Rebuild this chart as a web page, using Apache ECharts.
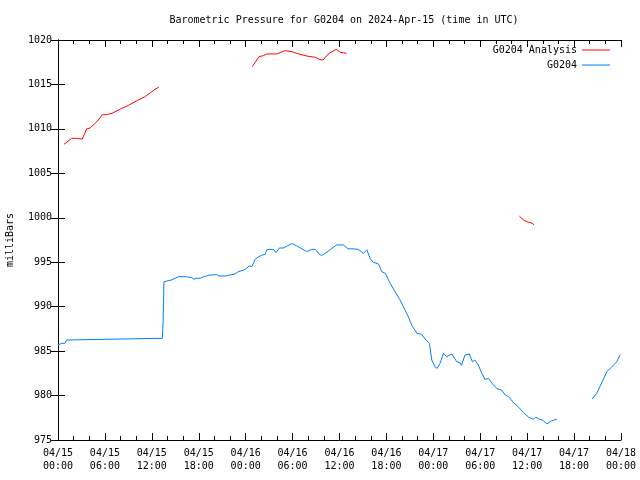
<!DOCTYPE html>
<html><head><meta charset="utf-8">
<script src="https://cdn.jsdelivr.net/npm/echarts@6/dist/echarts.min.js"></script>
<style>html,body{margin:0;padding:0;background:#fff}#c{width:640px;height:480px}</style>
</head><body><div id="c"></div>
<script>
// hours since 2024-04-15 00:00 UTC
const tickLabels = ['04/15\n00:00','04/15\n06:00','04/15\n12:00','04/15\n18:00','04/16\n00:00','04/16\n06:00','04/16\n12:00','04/16\n18:00','04/17\n00:00','04/17\n06:00','04/17\n12:00','04/17\n18:00','04/18\n00:00'];

const anaHours1 = [0.77,1.75,2.39,2.6,3.1,3.67,4.1,4.95,5.7,6.2,6.9,7.9,9.0,10.15,11.1,11.8,12.4,12.9];
const anaVals1  = [1008.27,1008.94,1008.94,1008.86,1008.86,1010.0,1010.1,1010.8,1011.6,1011.6,1011.75,1012.2,1012.65,1013.2,1013.6,1014.07,1014.45,1014.7];
const anaHours2 = [24.85,25.7,26.26,26.7,27.97,29.0,29.9,30.5,30.95,31.8,32.9,33.5,33.9,34.4,34.8,35.6,36.1,36.5,36.9];
const anaVals2  = [1017.0,1018.12,1018.24,1018.43,1018.43,1018.8,1018.7,1018.5,1018.4,1018.2,1018.05,1017.8,1017.75,1018.28,1018.57,1018.95,1018.6,1018.57,1018.5];
const anaHours3 = [59.0,59.3,59.7,60.15,60.6,60.9];
const anaVals3  = [1000.2,999.94,999.67,999.5,999.4,999.2];

const obsHours1 = [0.0,0.25,0.5,0.9,1.1,1.25,13.35,13.45,13.55,14.5,15.4,16.45,17.1,17.4,17.7,18.2,18.6,19.0,19.35,19.6,20.3,20.6,21.4,21.6,22.6,23.06,23.7,24.1,24.45,24.8,25.0,25.2,25.6,26.05,26.5,26.7,27.1,27.5,27.9,28.3,28.8,29.25,29.9,30.5,31.2,31.8,32.45,32.9,33.3,33.7,34.15,34.8,35.6,36.5,37.1,37.8,38.4,39.05,39.5,39.9,40.3,41.0,41.4,41.85,42.5,43.1,43.75,44.4,44.8,45.25,45.9,46.5,47.06,47.5,47.8,48.2,48.5,48.85,49.3,49.7,50.35,51.0,51.4,51.6,52.05,52.6,53.0,53.3,53.75,54.2,54.6,55.05,55.5,56.1,56.75,57.2,57.6,58.25,58.9,59.5,60.2,60.8,61.0,61.1,61.6,62.05,62.5,62.7,63.1,63.8];
const obsVals1  = [985.7,985.69,985.88,985.88,986.25,986.44,986.44,988.5,992.81,993.0,993.37,993.37,993.26,993.08,993.2,993.2,993.37,993.45,993.56,993.6,993.6,993.45,993.45,993.67,993.67,993.94,994.1,994.3,994.6,994.5,994.9,995.3,995.6,995.78,995.9,996.4,996.45,996.45,996.1,996.6,996.6,996.8,997.1,996.86,996.5,996.2,996.45,996.45,996.0,995.74,996.0,996.4,996.94,996.94,996.5,996.5,996.45,996.0,996.4,995.44,995.0,994.8,993.94,993.75,992.6,991.7,990.75,989.6,988.87,987.9,987.0,986.9,986.25,985.88,984.0,983.25,983.06,983.6,984.75,984.37,984.68,983.8,983.7,983.4,984.56,984.68,983.8,984.0,983.44,982.5,981.8,981.94,981.4,980.8,980.6,980.06,979.9,979.2,978.7,978.1,977.56,977.34,977.2,977.56,977.34,977.2,976.8,976.6,977.15,977.34];
const obsHours2 = [68.3,68.9,69.3,69.7,70.2,70.8,71.45,71.9];
const obsVals2  = [979.6,980.25,981.0,981.75,982.7,983.2,983.8,984.6];

function pairs(hs, vs){ return hs.map((h,i)=>[h, vs[i]]); }
function joinSegs(segs){
  const out = [];
  segs.forEach((s,k)=>{ if(k>0) out.push([(out[out.length-1][0]+s[0][0])/2, null]); out.push(...s); });
  return out;
}
const anaData = joinSegs([pairs(anaHours1,anaVals1), pairs(anaHours2,anaVals2), pairs(anaHours3,anaVals3)]);
const obsData = joinSegs([pairs(obsHours1,obsVals1), pairs(obsHours2,obsVals2)]);

const FONT = 'DejaVu Sans Mono';
const chart = echarts.init(document.getElementById('c'), null, {renderer:'canvas'});
const axisLine = {show:true, lineStyle:{color:'#000', width:1}};
chart.setOption({
  animation:false,
  backgroundColor:'#fff',
  textStyle:{fontFamily:FONT},
  title:{text:'Barometric Pressure for G0204 on 2024-Apr-15 (time in UTC)', left:339, top:10, textAlign:'center',
    textStyle:{fontFamily:FONT, fontSize:10, fontWeight:'normal', color:'#000'}},
  legend:{orient:'vertical', right:25, top:40, align:'right', itemGap:5, itemWidth:28, itemHeight:1,
    icon:'rect', textStyle:{fontFamily:FONT, fontSize:10, color:'#000'},
    data:['G0204 Analysis','G0204']},
  grid:{left:58, right:19, top:40, bottom:40, containLabel:false, outerBoundsMode:'none'},
  xAxis:[
    {type:'value', min:0, max:72, interval:6, position:'bottom',
     axisLine, splitLine:{show:false},
     axisTick:{show:true, inside:true, length:7, lineStyle:{color:'#000'}},
     minorTick:{show:true, splitNumber:3, length:4, lineStyle:{color:'#000'}},
     axisLabel:{fontFamily:FONT, fontSize:10, color:'#000', margin:7, lineHeight:13,
       formatter:(v)=>tickLabels[Math.round(v/6)]}},
    {type:'value', min:0, max:72, interval:6, position:'top',
     axisLine, splitLine:{show:false},
     axisTick:{show:true, inside:true, length:7, lineStyle:{color:'#000'}},
     minorTick:{show:true, splitNumber:3, length:4, lineStyle:{color:'#000'}},
     axisLabel:{show:false}}
  ],
  yAxis:[
    {type:'value', min:975, max:1020, interval:5, position:'left',
     name:'milliBars', nameLocation:'middle', nameGap:43, nameRotate:90,
     nameTextStyle:{fontFamily:FONT, fontSize:10, color:'#000'},
     axisLine, splitLine:{show:false},
     axisTick:{show:true, inside:true, length:7, lineStyle:{color:'#000'}},
     axisLabel:{fontFamily:FONT, fontSize:10, color:'#000', margin:6, formatter:(v)=>String(v)}},
    {type:'value', min:975, max:1020, interval:5, position:'right',
     axisLine, splitLine:{show:false},
     axisTick:{show:true, inside:true, length:7, lineStyle:{color:'#000'}},
     axisLabel:{show:false}}
  ],
  series:[
    {name:'G0204 Analysis', type:'line', data:anaData, showSymbol:false, symbol:'none', connectNulls:false,
     color:'#ff0000', lineStyle:{color:'#ff0000', width:1}},
    {name:'G0204', type:'line', data:obsData, showSymbol:false, symbol:'none', connectNulls:false,
     color:'#0080ff', lineStyle:{color:'#0080ff', width:1}}
  ]
});
</script></body></html>
